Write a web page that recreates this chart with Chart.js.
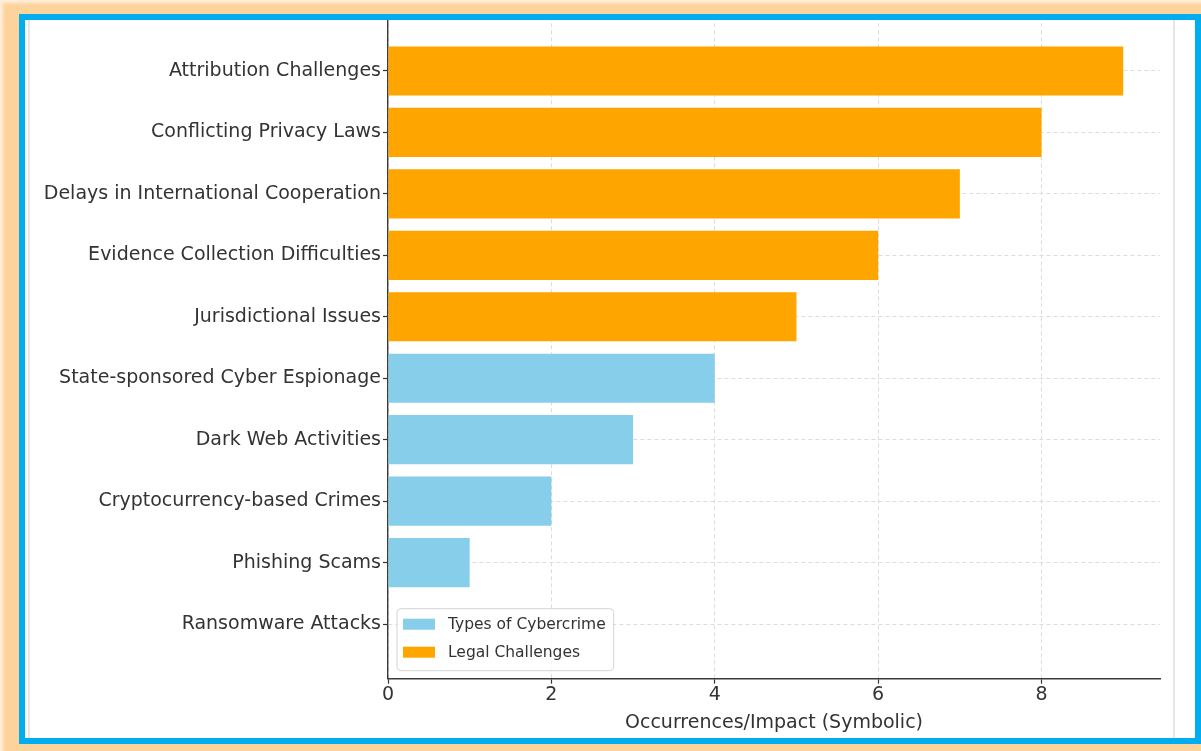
<!DOCTYPE html>
<html>
<head>
<meta charset="utf-8">
<title>Types of Cybercrime and Legal Challenges</title>
<script src="https://cdn.jsdelivr.net/npm/chart.js@4.4.1/dist/chart.umd.min.js"></script>
<style>
    html, body { margin: 0; padding: 0; background: #ffffff; }
    body { width: 1201px; height: 751px; position: relative; overflow: hidden; }
    #chartWrap { position: absolute; left: 0; top: 0; width: 1201px; height: 751px; }
    /* faint image edge lines inside the frame */
    #edges {
        position: absolute; left: 28px; top: 20px; width: 1143px; height: 718px;
        border-left: 2px solid #e6e6e6; border-right: 2px solid #e6e6e6;
        pointer-events: none;
    }
    #frame {
        position: absolute; left: 0; top: 0; width: 1201px; height: 751px;
        box-sizing: border-box;
        border-style: solid; border-color: #fdd39c;
        border-width: 14px 0 7px 19px;
        pointer-events: none;
    }
    #frame .blue {
        width: 100%; height: 100%; box-sizing: border-box;
        border: 6px solid #00aeef;
    }
    #glow {
        position: absolute; left: 0; top: 0; width: 1201px; height: 751px;
        box-shadow: inset 3px 3px 3px rgba(255, 244, 232, 0.8);
        pointer-events: none;
    }
</style>
</head>
<body>
<div id="chartWrap"><canvas id="cyberChart" width="1201" height="751"></canvas></div>
<div id="edges"></div>
<div id="frame"><div class="blue"></div></div>
<div id="glow"></div>

<script>
// Data (bottom to top, as plotted)
var categories = [
    'Ransomware Attacks',
    'Phishing Scams',
    'Cryptocurrency-based Crimes',
    'Dark Web Activities',
    'State-sponsored Cyber Espionage',
    'Jurisdictional Issues',
    'Evidence Collection Difficulties',
    'Delays in International Cooperation',
    'Conflicting Privacy Laws',
    'Attribution Challenges'
];
var cybercrimeValues = [0, 1, 2, 3, 4, null, null, null, null, null];
var legalValues = [null, null, null, null, null, 5, 6, 7, 8, 9];
var xTicks = [0, 2, 4, 6, 8];
var seriesNames = ['Types of Cybercrime', 'Legal Challenges'];
var xTitle = 'Occurrences/Impact (Symbolic)';

(function() {
    'use strict';

    var textColor = '#333333';
    var gridColor = '#dcdcdc';
    var font = 'DejaVu Sans';

    function toPoints(values) {
        var pts = [];
        values.forEach(function(v, i) {
            if (v !== null) pts.push({ x: v, y: i });
        });
        return pts;
    }

    // Legend drawn inside the plot area, lower left (matplotlib style)
    var insideLegend = {
        id: 'insideLegend',
        afterDatasetsDraw: function(chart) {
            var ctx = chart.ctx;
            var area = chart.chartArea;
            var sets = chart.data.datasets;
            ctx.save();
            ctx.font = '15.5px "' + font + '"';
            var textW = 0;
            sets.forEach(function(d) {
                textW = Math.max(textW, ctx.measureText(d.label).width);
            });
            var rowH = 28;
            var w = 6 + 32 + 13 + textW + 8;
            var h = 16 + rowH * (sets.length - 1) + 18;
            var x = area.left + 9;
            var y = area.bottom - 8 - h;

            ctx.beginPath();
            ctx.roundRect(x, y, w, h, 4);
            ctx.fillStyle = 'rgba(255, 255, 255, 0.85)';
            ctx.fill();
            ctx.lineWidth = 1;
            ctx.strokeStyle = '#d4d4d4';
            ctx.stroke();

            sets.forEach(function(d, i) {
                var cy = y + 16 + i * rowH;
                ctx.fillStyle = d.backgroundColor;
                ctx.fillRect(x + 6, cy - 6, 32, 11);
                ctx.fillStyle = textColor;
                ctx.textBaseline = 'middle';
                ctx.textAlign = 'left';
                ctx.fillText(d.label, x + 6 + 32 + 13, cy);
            });
            ctx.restore();
        }
    };

    function initChart() {
        var canvas = document.getElementById('cyberChart');
        if (typeof Chart === 'undefined') {
            console.error('Chart.js is not loaded!');
            return;
        }

        Chart.defaults.font.family = font;
        Chart.defaults.color = textColor;

        new Chart(canvas, {
            type: 'bar',
            data: {
                datasets: [{
                    label: seriesNames[0],
                    data: toPoints(cybercrimeValues),
                    backgroundColor: '#87ceeb',
                    grouped: false
                }, {
                    label: seriesNames[1],
                    data: toPoints(legalValues),
                    backgroundColor: '#ffa500',
                    grouped: false
                }]
            },
            options: {
                indexAxis: 'y',
                responsive: false,
                animation: false,
                categoryPercentage: 1.0,
                barPercentage: 0.8,
                layout: { padding: { top: 16.3, right: 41, left: 0, bottom: 0 } },
                plugins: {
                    legend: { display: false },
                    tooltip: { enabled: false }
                },
                scales: {
                    y: {
                        type: 'linear',
                        min: -0.89,
                        max: 9.89,
                        offset: false,
                        afterBuildTicks: function(scale) {
                            scale.ticks = categories.map(function(c, i) { return { value: i }; });
                        },
                        afterFit: function(scale) { scale.width = 388; },
                        ticks: {
                            autoSkip: false,
                            padding: 2,
                            color: textColor,
                            font: { size: 19 },
                            callback: function(v) { return categories[v]; }
                        },
                        grid: {
                            offset: false,
                            color: gridColor,
                            tickColor: textColor,
                            tickLength: 5,
                            tickWidth: 1.2
                        },
                        border: { color: '#3a3a3a', width: 1.4, dash: [4, 3] }
                    },
                    x: {
                        type: 'linear',
                        min: 0,
                        max: 9.45,
                        afterBuildTicks: function(scale) {
                            scale.ticks = xTicks.map(function(v) { return { value: v }; });
                        },
                        afterFit: function(scale) { scale.height = 72.3; },
                        ticks: {
                            padding: 0,
                            color: textColor,
                            font: { size: 19 }
                        },
                        grid: {
                            color: gridColor,
                            tickColor: textColor,
                            tickLength: 5,
                            tickWidth: 1.2
                        },
                        border: { color: '#3a3a3a', width: 1.4, dash: [4, 3] },
                        title: {
                            display: true,
                            text: xTitle,
                            color: textColor,
                            font: { size: 19 },
                            padding: { top: 4, bottom: 17 }
                        }
                    }
                }
            },
            plugins: [insideLegend]
        });
    }

    document.addEventListener('DOMContentLoaded', initChart);
})();
</script>
</body>
</html>
